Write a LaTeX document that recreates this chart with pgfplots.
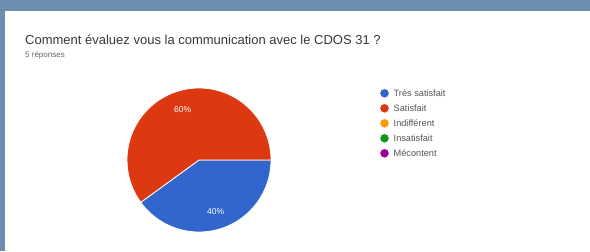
\documentclass[border=0pt]{standalone}
\usepackage{pgfplots}
\pgfplotsset{compat=1.18}
\usepackage{fontspec}
\setmainfont{Liberation Sans}
\definecolor{band}{HTML}{6A8DB0}
\definecolor{gBlue}{HTML}{3366CC}
\definecolor{gRed}{HTML}{DC3912}
\definecolor{gOrange}{HTML}{FF9900}
\definecolor{gGreen}{HTML}{109618}
\definecolor{gPurple}{HTML}{990099}
\definecolor{titlecol}{HTML}{383838}
\definecolor{subcol}{HTML}{666666}
\definecolor{legcol}{HTML}{555555}
% responses: Tres satisfait 2, Satisfait 3, Indifferent 0, Insatisfait 0, Mecontent 0 (total 5)
\pgfmathsetmacro{\angBlue}{360*2/5}
\pgfmathsetmacro{\angRed}{360*3/5}
\begin{document}
\begin{tikzpicture}
\begin{axis}[width=590bp, height=251bp, scale only axis,
  xmin=0, xmax=590, ymin=0, ymax=251, y dir=reverse,
  hide axis, clip=false]
% background band and card
\fill[band] (axis cs:0,0) rectangle (axis cs:590,251);
\fill[white] (axis cs:5,11) rectangle (axis cs:590,251);
% title
\node[anchor=west, inner sep=0pt, text=titlecol, font=\fontsize{13bp}{15bp}\selectfont] at (axis cs:25,40) {Comment évaluez vous la communication avec le CDOS 31 ?};
\node[anchor=west, inner sep=0pt, text=subcol, font=\fontsize{8bp}{10bp}\selectfont] at (axis cs:25,55.5) {5 réponses};
% pie (center 199,160; radius 72)
\fill[gBlue, draw=white, line width=0.8bp] (axis cs:199,160) -- ++(0:72bp) arc[start angle=0, end angle=-\angBlue, radius=72bp] -- cycle;
\fill[gRed, draw=white, line width=0.8bp] (axis cs:199,160) -- ++(0:72bp) arc[start angle=0, end angle=\angRed, radius=72bp] -- cycle;
\node[text=white, font=\fontsize{8.5bp}{10bp}\selectfont, inner sep=0pt] at (axis cs:182.6,109.6) {60\%};
\node[text=white, font=\fontsize{8.5bp}{10bp}\selectfont, inner sep=0pt] at (axis cs:215.7,211.8) {40\%};
% legend markers
\addplot[only marks, mark=*, mark size=4bp, color=gBlue] coordinates {(384.5,93.3)};
\addplot[only marks, mark=*, mark size=4bp, color=gRed] coordinates {(384.5,108.3)};
\addplot[only marks, mark=*, mark size=4bp, color=gOrange] coordinates {(384.5,123.3)};
\addplot[only marks, mark=*, mark size=4bp, color=gGreen] coordinates {(384.5,138.3)};
\addplot[only marks, mark=*, mark size=4bp, color=gPurple] coordinates {(384.5,153.3)};
\begin{scope}[every node/.style={anchor=west, inner sep=0pt, text=legcol, text height=1.5ex, text depth=0.25ex, font=\fontsize{9.2bp}{11bp}\selectfont}]
\node at (axis cs:393.5,93.3) {Très satisfait};
\node at (axis cs:393.5,108.3) {Satisfait};
\node at (axis cs:393.5,123.3) {Indifférent};
\node at (axis cs:393.5,138.3) {Insatisfait};
\node at (axis cs:393.5,153.3) {Mécontent};
\end{scope}
\end{axis}
\end{tikzpicture}
\end{document}
